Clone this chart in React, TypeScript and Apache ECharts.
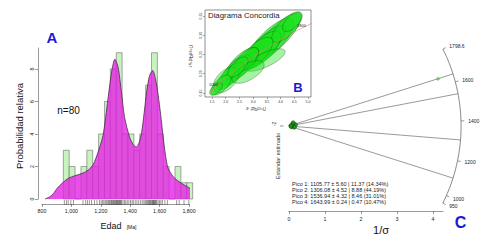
import React, { useEffect, useRef } from 'react';
import * as echarts from 'echarts';

// ---------------- Panel A: histogram + density ----------------
const binStarts = [945, 985, 1025, 1065, 1105, 1145, 1185, 1225, 1265, 1305, 1345, 1385, 1425, 1465, 1505, 1545, 1585, 1625, 1665, 1705, 1745, 1785];
const binEnds = [985, 1025, 1065, 1105, 1145, 1185, 1225, 1265, 1305, 1345, 1385, 1425, 1465, 1505, 1545, 1585, 1625, 1665, 1705, 1745, 1785, 1825];
const binCounts = [3, 2, 0, 2, 3, 2, 4, 6, 8, 9, 4, 4, 3, 4, 7, 9, 4, 2, 0, 2, 1, 1];

const kdeAges = [820, 850, 877, 905, 935, 960, 985, 1020, 1055, 1090, 1120, 1150, 1180, 1215, 1248, 1275, 1296, 1318, 1340, 1362, 1396, 1420, 1442, 1460, 1478, 1495, 1512, 1532, 1553, 1572, 1590, 1607, 1623, 1640, 1657, 1690, 1720, 1750, 1780, 1815, 1850, 1880, 1910, 1938];
const kdeValues = [0, 0.12, 0.33, 0.68, 0.95, 1.15, 1.3, 1.42, 1.52, 1.64, 1.82, 2.15, 2.85, 3.9, 6.1, 7.9, 8.6, 8.1, 6.6, 5.0, 3.8, 3.35, 3.2, 3.45, 4.1, 5.3, 6.6, 7.6, 7.9, 7.4, 6.4, 5.2, 3.9, 2.7, 1.9, 1.4, 1.15, 0.96, 0.8, 0.62, 0.45, 0.25, 0.1, 0];

const rugAges = [
  952, 966, 978, 996, 1014, 1079, 1097, 1109, 1122, 1137, 1157, 1174,
  1191, 1202, 1211, 1220, 1229, 1236, 1243, 1250, 1256, 1261,
  1268, 1273, 1278, 1283, 1288, 1292, 1297, 1302,
  1307, 1311, 1315, 1319, 1324, 1328, 1333, 1337, 1342,
  1351, 1361, 1370, 1380, 1391, 1402, 1413, 1421, 1434, 1446, 1458,
  1471, 1482, 1493, 1501, 1508, 1514, 1520, 1526, 1531, 1536, 1541,
  1547, 1551, 1555, 1559, 1563, 1567, 1571, 1576, 1581,
  1590, 1600, 1609, 1619, 1636, 1653, 1716, 1733, 1766, 1799,
];

const ageTicks = [800, 1000, 1200, 1400, 1600, 1800];
const countTicks = [0, 2, 4, 6, 8];

// ---------------- Panel B: concordia ----------------
const concAges = [900, 1000, 1100, 1200, 1300, 1400, 1500, 1600, 1700, 1800, 1900];
const concX = [1.4263, 1.6774, 1.9545, 2.2603, 2.5977, 2.9701, 3.3809, 3.8344, 4.3349, 4.8869, 5.4961];
const concY = [0.1498, 0.1678, 0.1861, 0.2046, 0.2234, 0.2426, 0.262, 0.2817, 0.3018, 0.3221, 0.3428];
const concLabelAges = [1000, 1800];

const ellX = [3.906, 3.615, 3.432, 3.323, 4.234, 3.104, 3.432, 4.417, 2.594, 2.375, 2.74, 2.156, 2.011, 1.828, 1.646, 2.813, 2.448];
const ellY = [0.298, 0.2825, 0.272, 0.2617, 0.3214, 0.2513, 0.2357, 0.3344, 0.2253, 0.2097, 0.2357, 0.1941, 0.1838, 0.1708, 0.1604, 0.2045, 0.2175];
const ellSX = [0.815, 0.872, 0.758, 0.694, 0.555, 0.613, 0.735, 0.346, 0.613, 0.555, 0.45, 0.498, 0.473, 0.369, 0.231, 0.587, 0.369];
const ellSY = [0.0581, 0.0622, 0.054, 0.0495, 0.0396, 0.0437, 0.0292, 0.0246, 0.0437, 0.0396, 0.0321, 0.0355, 0.0337, 0.0263, 0.0164, 0.0295, 0.0263];
const ellRho = [0.8, 0.789, 0.813, 0.724, 0.724, 0.713, 0.734, 0.6, 0.713, 0.724, 0.679, 0.737, 0.519, 0.649, 0.6, 0.616, 0.649];
const ellAlpha = [0.6, 0.6, 0.65, 0.6, 0.6, 0.65, 0.4, 0.6, 0.65, 0.65, 0.6, 0.6, 0.4, 0.6, 0.6, 0.4, 0.6];

const ratio207Ticks = [1.5, 2.0, 2.5, 3.0, 3.5, 4.0, 4.5, 5.0];
const ratio206Ticks = [0.15, 0.2, 0.25, 0.3, 0.35];

// ---------------- Panel C: radial plot ----------------
const peakAges = [1105.77, 1306.08, 1536.94, 1643.99];
const peakLines = [
  'Pico 1: 1105.77 ± 5.60 | 11.37 (14.34%)',
  'Pico 2: 1306.08 ± 4.52 | 8.88 (44.19%)',
  'Pico 3: 1536.94 ± 4.32 | 8.46 (31.01%)',
  'Pico 4: 1643.99 ± 0.24 | 0.47 (10.47%)',
];
const arcRange = [950, 1798.6];
const arcTickAges = [950, 1000, 1200, 1400, 1600, 1798.6];
const arcTickLabels = ['950', '1000', '1200', '1400', '1600', '1798.6'];
const precisionTicks = [0, 1, 2, 3, 4];
const radX = [0.04, 0.07, 0.09, 0.11, 0.13, 0.15, 0.17, 0.06, 0.1, 0.14, 0.08, 0.12, 0.19, 0.05, 0.16];
const radY = [0.01, 0.03, -0.02, 0.05, -0.01, 0.06, 0.03, -0.03, 0.08, -0.04, 0.02, 0.1, 0.04, -0.01, -0.03];
const outlierX = [4.14];
const outlierY = [1.31];

const RK = 0.00118;
const RT0 = 1375;
const RR = 4.78;
const ang = (t: number) => Math.atan(RK * (t - RT0));

const FONT = 'Liberation Sans, Arial, sans-serif';
const BLUE = '#1a1ad6';
const AX = '#555';

function txt(text: string, x: number, y: number, fontSize: number, extra: any = {}, rot = 0) {
  return {
    type: 'text', x, y, rotation: rot, z: 50,
    style: {
      text, fontSize, fontFamily: FONT,
      fill: extra.fill || '#111',
      fontWeight: extra.fontWeight || 'normal',
      align: extra.align || 'center', verticalAlign: 'middle',
      textAlign: extra.align || 'center', textVerticalAlign: 'middle',
    },
  };
}

export default function App() {
  const ref = useRef<HTMLDivElement>(null);
  useEffect(() => {
    if (!ref.current) return;
    const chart = echarts.init(ref.current, null, { renderer: 'svg' });
    const axisBase = (extra: any) => ({
      type: 'value', splitLine: { show: false },
      axisLine: { show: true, onZero: false, lineStyle: { color: AX, width: 0.6 } },
      ...extra,
    });
    const option: any = {
      animation: false,
      backgroundColor: '#fff',
      textStyle: { fontFamily: FONT },
      grid: [
        { left: 42, top: 48, width: 147, height: 151 },
        { left: 205, top: 10, width: 106, height: 87, show: true, backgroundColor: '#fff', borderColor: '#444', borderWidth: 0.6 },
        { left: 289, top: 40, width: 154, height: 171 },
      ],
      xAxis: [
        axisBase({ gridIndex: 0, min: 800, max: 1800, offset: 5,
          axisTick: { show: true, length: 3, customValues: ageTicks, lineStyle: { color: AX, width: 0.6 } },
          axisLabel: { fontSize: 5.3, margin: 4, color: '#222', customValues: ageTicks } }),
        axisBase({ gridIndex: 1, min: 1.245, max: 5.109, axisLine: { show: false },
          axisTick: { show: true, length: 2, customValues: ratio207Ticks, lineStyle: { color: AX, width: 0.5 } },
          axisLabel: { fontSize: 3.5, margin: 2.5, color: '#333', customValues: ratio207Ticks, formatter: (v: number) => v.toFixed(1) } }),
        axisBase({ gridIndex: 2, min: 0, max: 4.278,
          axisTick: { show: true, length: 3, customValues: precisionTicks, lineStyle: { color: AX, width: 0.6 } },
          axisLabel: { fontSize: 5.3, margin: 5, color: '#222', customValues: precisionTicks } }),
      ],
      yAxis: [
        axisBase({ gridIndex: 0, min: 0, max: 9.29, offset: 4,
          axisTick: { show: true, length: 3, customValues: countTicks, lineStyle: { color: AX, width: 0.6 } },
          axisLabel: { fontSize: 5.3, margin: 4, rotate: 90, color: '#222', customValues: countTicks } }),
        axisBase({ gridIndex: 1, min: 0.1396, max: 0.3656, axisLine: { show: false },
          axisTick: { show: true, length: 2, customValues: ratio206Ticks, lineStyle: { color: AX, width: 0.5 } },
          axisLabel: { fontSize: 3.5, margin: 2.5, rotate: 90, color: '#333', customValues: ratio206Ticks, formatter: (v: number) => v.toFixed(2) } }),
        { type: 'value', gridIndex: 2, min: -2.361, max: 2.389, show: false },
      ],
      series: [
        { type: 'custom', xAxisIndex: 0, yAxisIndex: 0, z: 1, clip: false,
          data: binStarts.map((s, i) => [s, binEnds[i], binCounts[i]]),
          renderItem: (_p: any, api: any) => {
            const a = api.coord([api.value(0), api.value(2)]);
            const b = api.coord([api.value(1), 0]);
            return { type: 'rect', shape: { x: a[0], y: a[1], width: b[0] - a[0], height: b[1] - a[1] },
              style: { fill: '#c6f3be', stroke: '#6f6f6f', lineWidth: 0.6 } };
          } },
        { type: 'line', xAxisIndex: 0, yAxisIndex: 0, z: 2, clip: false,
          data: kdeAges.map((a, i) => [a, kdeValues[i]]),
          smooth: 0.25, symbol: 'none',
          lineStyle: { color: '#4a2a4a', width: 0.8 },
          areaStyle: { color: '#e61ee6', opacity: 0.78 } },
        { type: 'custom', xAxisIndex: 0, yAxisIndex: 0, z: 3, clip: false,
          data: rugAges.map((a) => [a, 0]),
          renderItem: (_p: any, api: any) => {
            const p = api.coord([api.value(0), 0]);
            return { type: 'line', shape: { x1: p[0], y1: p[1] + 1, x2: p[0], y2: p[1] + 6 }, style: { stroke: '#333', lineWidth: 0.5 } };
          } },
        { type: 'custom', xAxisIndex: 1, yAxisIndex: 1, z: 4, clip: true,
          data: ellX.map((x, i) => [x, ellY[i], ellSX[i], ellSY[i], ellRho[i], ellAlpha[i]]),
          renderItem: (_p: any, api: any) => {
            const cx = api.value(0), cy = api.value(1), sx = api.value(2), sy = api.value(3), r = api.value(4), al = api.value(5);
            const pts: number[][] = [];
            const q = Math.sqrt(1 - r * r);
            for (let k = 0; k < 48; k++) {
              const t = (k / 48) * Math.PI * 2;
              pts.push(api.coord([cx + sx * Math.cos(t), cy + sy * (r * Math.cos(t) + q * Math.sin(t))]));
            }
            return { type: 'polygon', shape: { points: pts }, style: { fill: `rgba(25,225,25,${al})`, stroke: 'rgba(10,60,10,0.75)', lineWidth: 0.4 } };
          } },
        { type: 'line', xAxisIndex: 1, yAxisIndex: 1, z: 5, clip: true,
          data: concX.map((x, i) => [x, concY[i]]), smooth: true, symbol: 'none',
          lineStyle: { color: '#e0876e', width: 0.6 } },
        { type: 'custom', xAxisIndex: 1, yAxisIndex: 1, z: 6, clip: false,
          data: concLabelAges.map((a) => { const i = concAges.indexOf(a); return [concX[i], concY[i], a]; }),
          renderItem: (_p: any, api: any) => {
            const p = api.coord([api.value(0), api.value(1)]);
            return { type: 'text', style: { text: String(api.value(2)), x: p[0] + 1, y: p[1] - 1.5, fontSize: 4, fontFamily: FONT, fill: '#222', align: 'right', verticalAlign: 'middle' } };
          } },
        { type: 'custom', xAxisIndex: 2, yAxisIndex: 2, z: 4, clip: false,
          data: [[arcRange[0], arcRange[1]]],
          renderItem: (_p: any, api: any) => {
            const a0 = ang(api.value(0)), a1 = ang(api.value(1));
            const pts: number[][] = [];
            for (let k = 0; k <= 60; k++) { const a = a0 + ((a1 - a0) * k) / 60; pts.push(api.coord([RR * Math.cos(a), RR * Math.sin(a)])); }
            return { type: 'polyline', shape: { points: pts }, style: { stroke: '#555', fill: 'none', lineWidth: 0.7 } };
          } },
        { type: 'custom', xAxisIndex: 2, yAxisIndex: 2, z: 4, clip: false,
          data: peakAges.map((a) => [a, 0]),
          renderItem: (_p: any, api: any) => {
            const a = ang(api.value(0));
            const o = api.coord([0, 0]);
            const e = api.coord([RR * Math.cos(a), RR * Math.sin(a)]);
            return { type: 'line', shape: { x1: o[0], y1: o[1], x2: e[0], y2: e[1] }, style: { stroke: '#555', lineWidth: 0.6 } };
          } },
        { type: 'custom', xAxisIndex: 2, yAxisIndex: 2, z: 4, clip: false,
          data: arcTickAges.map((a) => [a, 0]),
          renderItem: (p: any, api: any) => {
            const a = ang(api.value(0));
            const c = Math.cos(a), s = Math.sin(a);
            const i0 = api.coord([RR * c, RR * s]);
            const i1 = api.coord([(RR + 0.09) * c, (RR + 0.09) * s]);
            const l = api.coord([(RR + 0.2) * c, (RR + 0.2) * s]);
            return { type: 'group', children: [
              { type: 'line', shape: { x1: i0[0], y1: i0[1], x2: i1[0], y2: i1[1] }, style: { stroke: '#555', lineWidth: 0.6 } },
              { type: 'text', style: { text: arcTickLabels[p.dataIndex], x: l[0], y: l[1], fontSize: 5, fontFamily: FONT, fill: '#222', align: 'left', verticalAlign: 'middle' } },
            ] };
          } },
        { type: 'scatter', xAxisIndex: 2, yAxisIndex: 2, z: 6,
          data: radX.map((x, i) => [x, radY[i]]), symbol: 'circle', symbolSize: 3.5,
          itemStyle: { color: '#1f9a1f', borderColor: '#0b3b0b', borderWidth: 0.5 } },
        { type: 'scatter', xAxisIndex: 2, yAxisIndex: 2, z: 6,
          data: outlierX.map((x, i) => [x, outlierY[i]]), symbol: 'circle', symbolSize: 3,
          itemStyle: { color: '#5ccf5c', borderColor: '#3a8a3a', borderWidth: 0.3 } },
      ],
      graphic: [
        txt('A', 52, 37, 15, { fontWeight: 'bold', fill: BLUE }),
        txt('Probabilidad relativa', 19, 126, 9.5, {}, Math.PI / 2),
        txt('n=80', 68.5, 110, 10),
        txt('Edad', 111, 226, 9),
        txt('[Ma]', 131.5, 226.5, 5),
        txt('Diagrama Concordia', 208, 15, 7.8, { align: 'left', fill: '#222' }),
        txt('²⁰⁷Pb/²³⁵U', 256, 109, 4.5, { fill: '#333' }),
        txt('²⁰⁶Pb/²³⁸U', 191, 56, 5, { fill: '#333' }, Math.PI / 2),
        txt('B', 298, 87, 13, { fontWeight: 'bold', fill: BLUE }),
        txt('Estandar estimado', 278, 156, 5.6, { fill: '#333' }, Math.PI / 2),
        txt('-2', 273.5, 124, 5, { fill: '#333' }, Math.PI / 2),
        { type: 'line', z: 50, shape: { x1: 280, y1: 126, x2: 283.5, y2: 126 }, style: { stroke: '#444', lineWidth: 0.6 } },
        ...peakLines.map((t, i) => txt(t, 292, 184 + i * 6, 5.5, { align: 'left', fill: '#222' })),
        txt('1/σ', 381, 230, 11),
        txt('C', 460.5, 222, 16, { fontWeight: 'bold', fill: BLUE }),
      ],
    };
    chart.setOption(option);
    return () => chart.dispose();
  }, []);

  return <div ref={ref} style={{ position: 'fixed', left: 0, top: 0, width: 489, height: 241, background: '#fff' }} />;
}
